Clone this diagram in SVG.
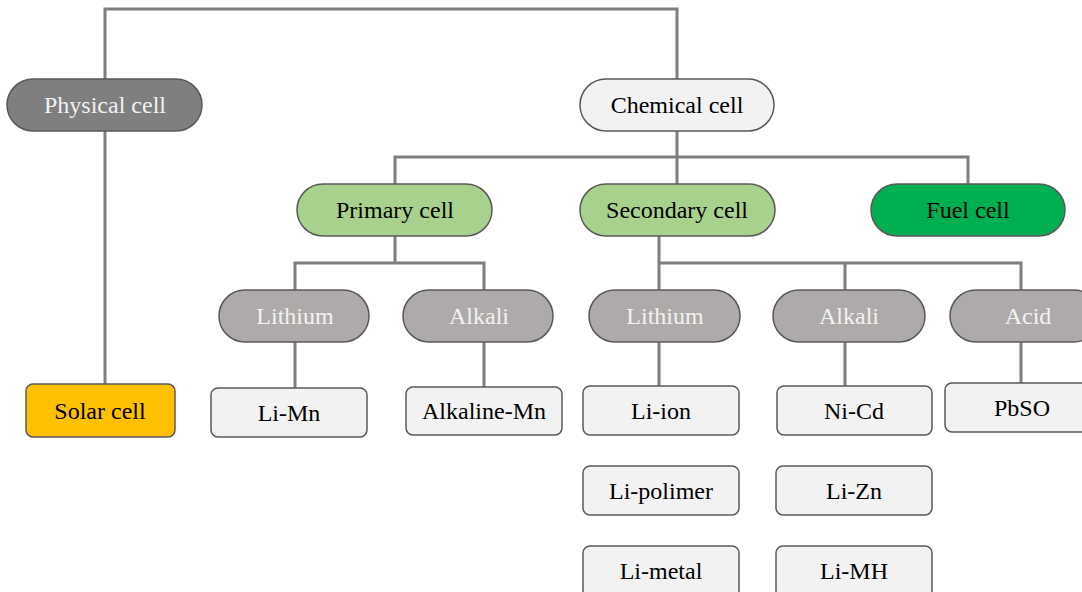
<svg xmlns="http://www.w3.org/2000/svg" width="1082" height="592" viewBox="0 0 1082 592">
<style>
.n{stroke:#595959;stroke-width:1.5}
.box{fill:#f2f2f2}
.t{font-size:24px;text-anchor:middle;fill:#000}
.w{fill:#f2f2f2}
.c{fill:none;stroke:#7f7f7f;stroke-width:3}
</style>
<rect width="1082" height="592" fill="#fff"/>
<g id="connectors" class="c">
<path d="M105 131V384M105 79V9H677V79"/>
<path d="M677 131V157M395 184V157H968V184M677 157V184"/>
<path d="M395 236V263M295 290V263H484V290M295 342V388M484 342V387"/>
<path d="M659 236V290M659 263H1021V290M845 263V290M659 342V386M845 342V386M1021 342V383"/>
</g>
<g font-family="Liberation Serif, Times New Roman, serif">
<g id="physical"><rect class="n" x="7" y="79" width="195" height="52" rx="26" fill="#7f7f7f"/><text class="t w" x="105" y="113">Physical cell</text></g>
<g id="chemical"><rect class="n" x="580" y="79" width="194" height="52" rx="26" fill="#f2f2f2"/><text class="t" x="677" y="113">Chemical cell</text></g>
<g id="primary"><rect class="n" x="297" y="184" width="195" height="52" rx="26" fill="#a9d18e"/><text class="t" x="395" y="218">Primary cell</text></g>
<g id="secondary"><rect class="n" x="580" y="184" width="195" height="52" rx="26" fill="#a9d18e"/><text class="t" x="677" y="218">Secondary cell</text></g>
<g id="fuel"><rect class="n" x="871" y="184" width="194" height="52" rx="26" fill="#00b050"/><text class="t" x="968" y="218">Fuel cell</text></g>
<g id="p-lithium"><rect class="n" x="219" y="290" width="150" height="52" rx="26" fill="#aeaaaa"/><text class="t w" x="295" y="324">Lithium</text></g>
<g id="p-alkali"><rect class="n" x="403" y="290" width="150" height="52" rx="26" fill="#aeaaaa"/><text class="t w" x="479" y="324">Alkali</text></g>
<g id="s-lithium"><rect class="n" x="589" y="290" width="151" height="52" rx="26" fill="#aeaaaa"/><text class="t w" x="665" y="324">Lithium</text></g>
<g id="s-alkali"><rect class="n" x="773" y="290" width="152" height="52" rx="26" fill="#aeaaaa"/><text class="t w" x="849" y="324">Alkali</text></g>
<g id="s-acid"><rect class="n" x="950" y="290" width="150" height="52" rx="26" fill="#aeaaaa"/><text class="t w" x="1028" y="324">Acid</text></g>
<g id="solar"><rect class="n" x="26" y="384" width="149" height="53" rx="7" fill="#ffc000"/><text class="t" x="100" y="419">Solar cell</text></g>
<g id="li-mn"><rect class="n box" x="211" y="388" width="156" height="49" rx="7"/><text class="t" x="289" y="421">Li-Mn</text></g>
<g id="alkaline-mn"><rect class="n box" x="406" y="387" width="156" height="48" rx="7"/><text class="t" x="484" y="419">Alkaline-Mn</text></g>
<g id="li-ion"><rect class="n box" x="583" y="386" width="156" height="49" rx="7"/><text class="t" x="661" y="419">Li-ion</text></g>
<g id="ni-cd"><rect class="n box" x="777" y="386" width="155" height="49" rx="7"/><text class="t" x="854" y="419">Ni-Cd</text></g>
<g id="pbso"><rect class="n box" x="945" y="383" width="150" height="49" rx="7"/><text class="t" x="1022" y="416">PbSO</text></g>
<g id="li-polimer"><rect class="n box" x="583" y="466" width="156" height="49" rx="7"/><text class="t" x="661" y="499">Li-polimer</text></g>
<g id="li-zn"><rect class="n box" x="776" y="466" width="156" height="49" rx="7"/><text class="t" x="854" y="499">Li-Zn</text></g>
<g id="li-metal"><rect class="n box" x="583" y="546" width="156" height="52" rx="7"/><text class="t" x="661" y="579">Li-metal</text></g>
<g id="li-mh"><rect class="n box" x="776" y="546" width="156" height="52" rx="7"/><text class="t" x="854" y="579">Li-MH</text></g>
</g>
</svg>
